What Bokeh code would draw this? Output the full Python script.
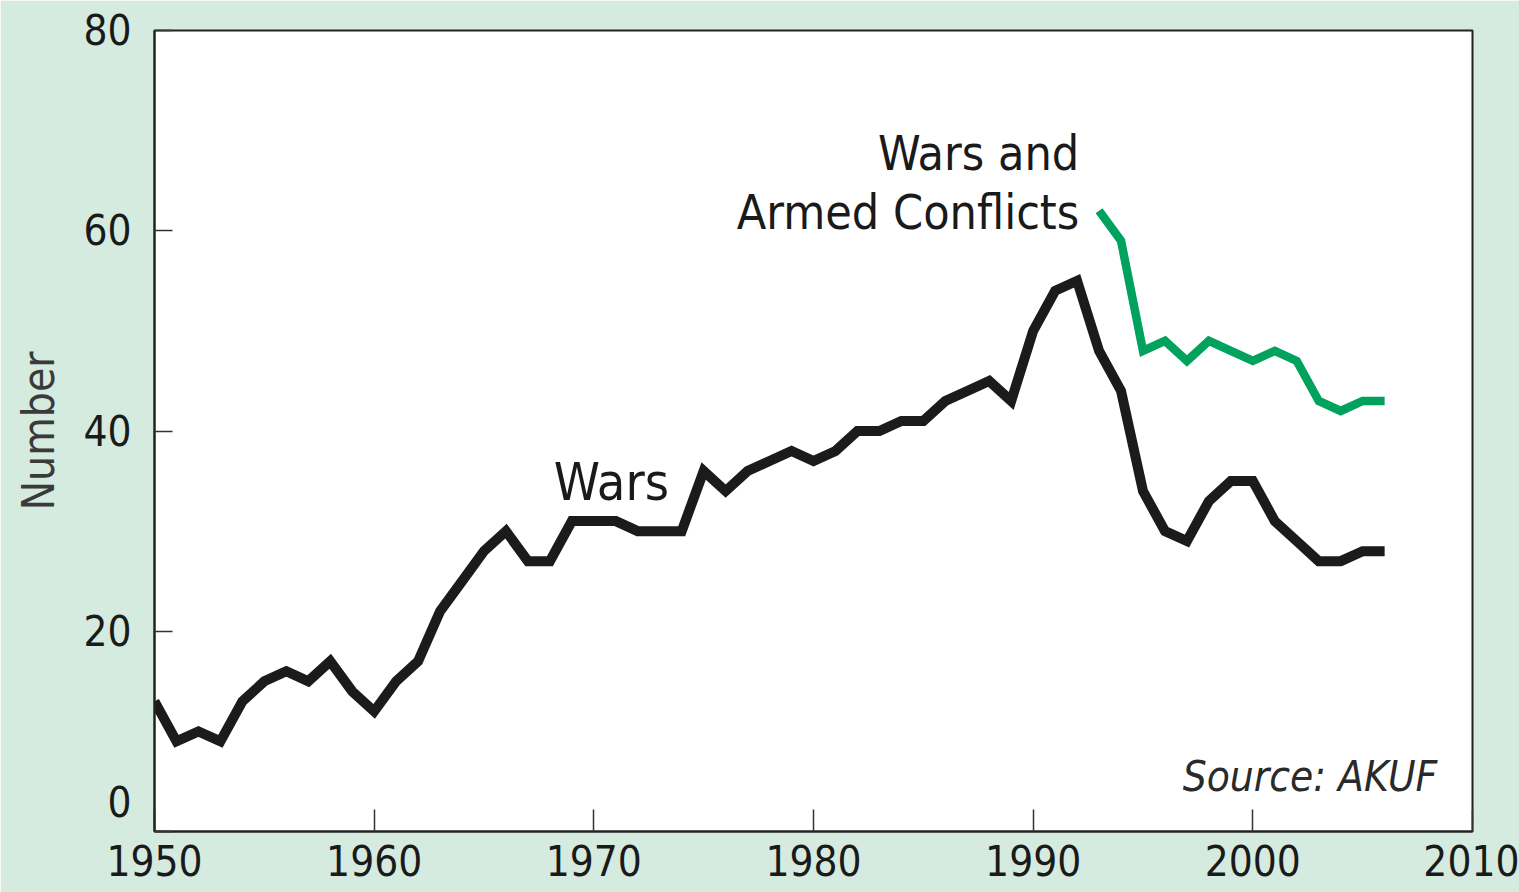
from bokeh.plotting import figure
from bokeh.models import Range1d, FixedTicker, ColumnDataSource
from bokeh.core.properties import value
from bokeh.embed import file_html
from bokeh.resources import INLINE

# ---- data ----
war_years = list(range(1950, 2007))
wars = [13, 9, 10, 9, 13, 15, 16, 15, 17, 14,
        12, 15, 17, 22, 25, 28, 30, 27, 27, 31,
        31, 31, 30, 30, 30, 36, 34, 36, 37, 38,
        37, 38, 40, 40, 41, 41, 43, 44, 45, 43,
        50, 54, 55, 48, 44, 34, 30, 29, 33, 35,
        35, 31, 29, 27, 27, 28, 28]
conf_years = list(range(1993, 2007))
wars_conflicts = [62, 59, 48, 49, 47, 49, 48, 47, 48, 47, 43, 42, 43, 43]

x_ticks = [1950, 1960, 1970, 1980, 1990, 2000, 2010]
y_ticks = [0, 20, 40, 60, 80]

FONT = "'DejaVu Sans Condensed', 'Roboto Condensed', 'Liberation Sans Narrow', Roboto"
BG = "#d5ebe0"

p = figure(width=1519, height=892, output_backend="svg", toolbar_location=None,
           x_range=Range1d(1950, 2010), y_range=Range1d(0, 80),
           background_fill_color="white", border_fill_color=BG,
           min_border_top=30, min_border_left=154, min_border_right=47,
           min_border_bottom=61)
p.grid.visible = False
p.outline_line_color = "#222222"
p.outline_line_width = 2

for ax in (p.xaxis[0], p.yaxis[0]):
    ax.axis_line_color = "#222222"
    ax.axis_line_width = 2
    ax.major_tick_in = 22
    ax.major_tick_out = 0
    ax.major_tick_line_color = "#333333"
    ax.major_tick_line_width = 1.5
    ax.minor_tick_line_color = None
    ax.major_label_text_font = FONT
    ax.major_label_text_font_size = "42px"
    ax.major_label_text_color = "#1a1a1a"

p.xaxis[0].ticker = FixedTicker(ticks=x_ticks)
p.yaxis[0].ticker = FixedTicker(ticks=y_ticks)
p.yaxis[0].major_tick_in = 18
p.xaxis[0].major_label_standoff = 13
p.yaxis[0].major_label_standoff = 23
# the "0" label sits a little higher in the original: give it an empty second line
p.yaxis[0].major_label_overrides = {0: "0\n"}
p.yaxis[0].axis_label = "Number"
p.yaxis[0].axis_label_text_font = FONT
p.yaxis[0].axis_label_text_font_style = "normal"
p.yaxis[0].axis_label_text_font_size = "44px"
p.yaxis[0].axis_label_text_color = "#3a3a3a"
p.yaxis[0].axis_label_standoff = 16

src_w = ColumnDataSource(dict(x=war_years, y=wars))
src_c = ColumnDataSource(dict(x=conf_years, y=wars_conflicts))
p.line("x", "y", source=src_w, line_color="#1c1a1a", line_width=10, line_join="miter")
p.line("x", "y", source=src_c, line_color="#00a25e", line_width=8.5, line_join="miter")

p.text(x=[1970.8], y=[34.9], text=["Wars"], text_font=value(FONT),
       text_font_size="52px", text_align="center", text_baseline="alphabetic",
       text_color="#1a1a1a")
p.text(x=[1992.1, 1992.1], y=[67.8, 61.9], text=["Wars and", "Armed Conflicts"],
       text_font=value(FONT), text_font_size="48px", text_align="right",
       text_baseline="alphabetic", text_color="#1a1a1a")
p.text(x=[2008.4], y=[5.5], text=["Source: AKUF"], text_font=value(FONT),
       text_font_size="42px", text_font_style="italic", text_align="right",
       text_baseline="alphabetic", text_color="#2a2a2a")

html = file_html(p, INLINE)
html = html.replace("<body>", '<body style="background-color:%s;">' % BG, 1)
open("out.html", "w").write(html)
